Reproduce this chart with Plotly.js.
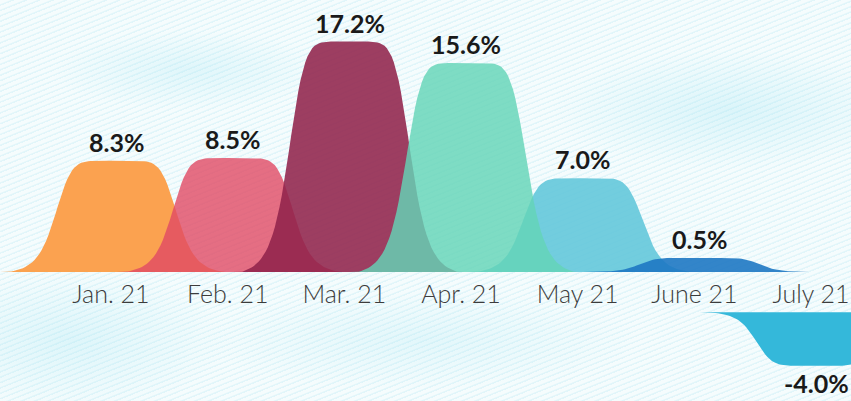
<!DOCTYPE html>
<html>
<head>
<meta charset="utf-8">
<script src="https://cdn.plot.ly/plotly-3.0.1.min.js"></script>
<style>
  html, body { margin: 0; padding: 0; }
  body {
    width: 851px; height: 401px; overflow: hidden;
    background-color: #f5fcfd;
    background-image:
      radial-gradient(ellipse 140px 40px at 190px 70px, rgba(160,228,242,0.25), rgba(160,228,242,0) 100%),
      radial-gradient(ellipse 180px 60px at 730px 110px, rgba(160,228,242,0.3), rgba(160,228,242,0) 100%),
      radial-gradient(ellipse 220px 50px at 420px 340px, rgba(160,228,242,0.22), rgba(160,228,242,0) 100%),
      radial-gradient(ellipse 160px 70px at 70px 340px, rgba(160,228,242,0.28), rgba(160,228,242,0) 100%),
      repeating-linear-gradient(-22deg, rgba(165,226,240,0.25) 0px, rgba(165,226,240,0.25) 1px, rgba(255,255,255,0) 2px, rgba(255,255,255,0) 5px);
  }
  #chart { width: 851px; height: 401px; }
</style>
</head>
<body>
<div id="chart"></div>
<script>
// ---- data ----
const months = ["Jan. 21", "Feb. 21", "Mar. 21", "Apr. 21", "May 21", "June 21", "July 21"];
const growth = [8.3, 8.5, 17.2, 15.6, 7.0, 0.5, -4.0];
const colors = [
  "rgba(251,162,80,1)",
  "rgba(225,74,100,0.8)",
  "rgba(145,35,75,0.88)",
  "rgba(100,212,183,0.82)",
  "rgba(100,200,218,0.9)",
  "rgba(30,120,195,0.9)",
  "rgba(52,184,218,1)"
];
const drawOrder = [0, 1, 2, 4, 3, 5, 6];

// ---- style constants ----
const minVisible = 1.05;   // smallest drawn bump height
const negOffset = 3.0;     // negative bumps hang below the month labels
const bumpShift = 0.045;   // bumps sit slightly right of their month label
const halfW = 0.53, power = 7, footW = 0.93;

function rawProfile(d) {
  return 1 / (1 + Math.pow(Math.abs(d) / halfW, power));
}
const footVal = rawProfile(footW);
function profile(d) {
  return Math.max(0, (rawProfile(d) - footVal) / (1 - footVal));
}

const traces = [];
const annotations = [];
drawOrder.forEach(i => {
  const v = growth[i];
  const h = Math.max(Math.abs(v), minVisible);
  const cx = i + bumpShift;
  const xs = [], ys = [];
  const base = v >= 0 ? 0 : -negOffset;
  const sgn = v >= 0 ? 1 : -1;
  for (let k = 0; k <= 100; k++) {
    const d = -1.0 + k * 0.02;
    xs.push(cx + d);
    ys.push(base + sgn * h * profile(d));
  }
  xs.push(cx + 1.0, cx - 1.0);
  ys.push(base, base);
  traces.push({
    x: xs, y: ys, type: "scatter", mode: "lines",
    fill: "toself", fillcolor: colors[i],
    line: { width: 0, color: colors[i] },
    hoverinfo: "skip", showlegend: false
  });
  annotations.push({
    x: cx, y: base + sgn * h, xref: "x", yref: "y",
    text: "<b>" + v.toFixed(1) + "%</b>",
    showarrow: false,
    yanchor: v >= 0 ? "bottom" : "top",
    yshift: v >= 0 ? 2 : 0,
    font: { family: "Lato, 'Open Sans', sans-serif", size: 25, color: "#1a1a1a" }
  });
});

const layout = {
  width: 851, height: 401,
  margin: { l: 0, r: 0, t: 0, b: 0 },
  paper_bgcolor: "rgba(0,0,0,0)",
  plot_bgcolor: "rgba(0,0,0,0)",
  xaxis: {
    range: [-0.951, 6.343],
    tickvals: months.map((m, i) => i),
    ticktext: months,
    anchor: "free", position: 0.3217,
    showgrid: false, zeroline: false, showline: false, ticks: "",
    ticklabelstandoff: 5,
    ticklabeloverflow: "allow",
    tickfont: { family: "Lato, 'Open Sans', sans-serif", size: 25, color: "#3c3c3c", weight: 300 }
  },
  yaxis: {
    range: [-9.63, 20.3],
    visible: false, showgrid: false, zeroline: false
  },
  annotations: annotations
};

Plotly.newPlot("chart", traces, layout, { staticPlot: true, displayModeBar: false });
</script>
</body>
</html>
